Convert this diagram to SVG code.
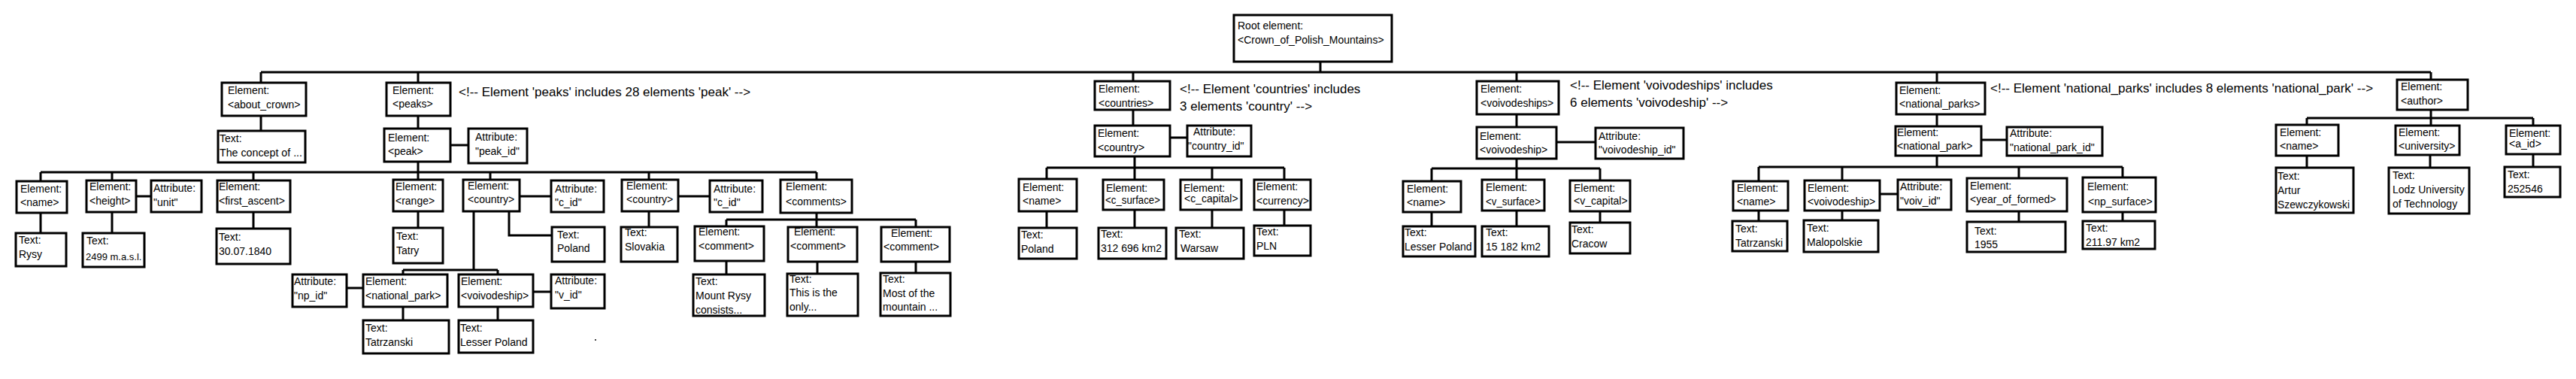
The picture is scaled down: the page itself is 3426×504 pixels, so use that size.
<svg xmlns="http://www.w3.org/2000/svg" width="3426" height="504" viewBox="0 0 3426 504">
<style>
.n rect{fill:#fff;stroke:#000;stroke-width:3}
text{font-family:"Liberation Sans",Arial,sans-serif;font-size:14px;fill:#000}
text.c{font-size:17px}
#connectors path{stroke:#000;stroke-width:3;fill:none}
</style>
<rect x="0" y="0" width="3426" height="504" fill="#fff"/>
<g id="connectors">
<path d="M347,96 H3233 M1756,83 V96 M347,96 V109 M556,96 V109 M1507,96 V107 M2017,96 V107 M2576,96 V109 M3233,96 V105"/>
<path d="M347,155 V173 M556,155 V170 M600,193 H622 M556,216 V229 M54,229 H1086 M54,229 V240 M149,229 V239 M337,229 V239 M556,229 V238 M652,229 V238 M863,229 V238 M1086,229 V238"/>
<path d="M182,261 H200 M54,284 V309 M149,283 V309 M337,283 V303 M556,282 V302 M692,261 H732 M903,261 H943"/>
<path d="M677,282 V313 H733 M630,282 V359 M536,359 H662 M536,359 V364 M662,359 V364 M462,383 H482 M536,409 V425 M710,388 H732 M662,409 V425 M863,282 V301"/>
<path d="M1086,284 V292 M966,292 H1218 M966,292 V300 M1086,292 V301 M1218,292 V301 M966,348 V364 M1087,349 V363 M1218,349 V362"/>
<path d="M1507,147 V166 M1557,183 H1578 M1509,209 V223 M1392,223 H1708 M1392,223 V237 M1509,223 V238 M1612,223 V238 M1708,223 V238 M1392,282 V302 M1509,280 V302 M1612,280 V302 M1708,280 V299"/>
<path d="M2017,153 V168 M2071,189 H2121 M2017,212 V224 M1904,224 H2128 M1904,224 V240 M2017,224 V238 M2128,224 V239 M1904,283 V300 M2017,281 V300 M2128,282 V295"/>
<path d="M2576,153 V167 M2636,186 H2668 M2576,208 V222 M2339,222 H2823 M2339,222 V240 M2450,222 V239 M2685,222 V236 M2823,222 V235 M2501,258 H2523 M2339,281 V293 M2450,281 V292 M2685,282 V294 M2823,283 V293"/>
<path d="M3233,147 V157 M3068,157 H3369 M3068,157 V165 M3233,157 V166 M3369,157 V166 M3068,208 V222 M3232,207 V222 M3369,206 V221"/>
</g>
<rect x="791" y="451" width="2" height="2" fill="#444"/>
<g id="comments">
<text class="c" x="610" y="128">&lt;!-- Element 'peaks' includes 28 elements 'peak' --&gt;</text>
<text class="c"><tspan x="1569" y="124">&lt;!-- Element 'countries' includes</tspan><tspan x="1569" y="147">3 elements 'country' --&gt;</tspan></text>
<text class="c"><tspan x="2088" y="119">&lt;!-- Element 'voivodeships' includes</tspan><tspan x="2088" y="142">6 elements 'voivodeship' --&gt;</tspan></text>
<text class="c" x="2647" y="123">&lt;!-- Element 'national_parks' includes 8 elements 'national_park' --&gt;</text>
</g>
<g id="n-root" class="n"><rect x="1641" y="20" width="210" height="62"/><text><tspan x="1646" y="39">Root element:</tspan><tspan x="1646" y="58">&lt;Crown_of_Polish_Mountains&gt;</tspan></text></g>
<g id="n-about_crown" class="n"><rect x="295" y="110" width="112" height="44"/><text><tspan x="303" y="125">Element:</tspan><tspan x="303" y="144">&lt;about_crown&gt;</tspan></text></g>
<g id="n-about_crown-text" class="n"><rect x="290" y="174" width="116" height="42"/><text><tspan x="292" y="189">Text:</tspan><tspan x="292" y="208" textLength="110" lengthAdjust="spacingAndGlyphs">The concept of ...</tspan></text></g>
<g id="n-peaks" class="n"><rect x="514" y="110" width="85" height="44"/><text><tspan x="522" y="125">Element:</tspan><tspan x="522" y="143">&lt;peaks&gt;</tspan></text></g>
<g id="n-peak" class="n"><rect x="511" y="171" width="88" height="44"/><text><tspan x="516" y="188">Element:</tspan><tspan x="516" y="206">&lt;peak&gt;</tspan></text></g>
<g id="n-peak_id" class="n"><rect x="623" y="171" width="78" height="46"/><text><tspan x="632" y="187">Attribute:</tspan><tspan x="632" y="206">"peak_id"</tspan></text></g>
<g id="n-name" class="n"><rect x="22" y="241" width="67" height="42"/><text><tspan x="27" y="256">Element:</tspan><tspan x="27" y="274">&lt;name&gt;</tspan></text></g>
<g id="n-name-text" class="n"><rect x="21" y="310" width="67" height="44"/><text><tspan x="25" y="324">Text:</tspan><tspan x="25" y="343">Rysy</tspan></text></g>
<g id="n-height" class="n"><rect x="115" y="240" width="66" height="42"/><text><tspan x="119" y="253">Element:</tspan><tspan x="119" y="272">&lt;height&gt;</tspan></text></g>
<g id="n-unit" class="n"><rect x="201" y="240" width="67" height="42"/><text><tspan x="204" y="255">Attribute:</tspan><tspan x="204" y="274">"unit"</tspan></text></g>
<g id="n-height-text" class="n"><rect x="110" y="310" width="82" height="45"/><text><tspan x="115" y="325">Text:</tspan><tspan x="114" y="346" style="font-size:13px">2499 m.a.s.l.</tspan></text></g>
<g id="n-first_ascent" class="n"><rect x="289" y="240" width="97" height="42"/><text><tspan x="291" y="253">Element:</tspan><tspan x="291" y="272">&lt;first_ascent&gt;</tspan></text></g>
<g id="n-first_ascent-text" class="n"><rect x="288" y="304" width="98" height="47"/><text><tspan x="291" y="320">Text:</tspan><tspan x="291" y="339">30.07.1840</tspan></text></g>
<g id="n-range" class="n"><rect x="523" y="239" width="66" height="42"/><text><tspan x="526" y="253">Element:</tspan><tspan x="526" y="272">&lt;range&gt;</tspan></text></g>
<g id="n-range-text" class="n"><rect x="523" y="303" width="66" height="47"/><text><tspan x="527" y="319">Text:</tspan><tspan x="527" y="338">Tatry</tspan></text></g>
<g id="n-country1" class="n"><rect x="616" y="239" width="75" height="42"/><text><tspan x="622" y="252">Element:</tspan><tspan x="622" y="270">&lt;country&gt;</tspan></text></g>
<g id="n-c_id1" class="n"><rect x="733" y="240" width="70" height="42"/><text><tspan x="738" y="256">Attribute:</tspan><tspan x="738" y="274">"c_id"</tspan></text></g>
<g id="n-country1-text" class="n"><rect x="734" y="302" width="70" height="46"/><text><tspan x="741" y="317">Text:</tspan><tspan x="741" y="335">Poland</tspan></text></g>
<g id="n-np_id" class="n"><rect x="389" y="365" width="72" height="43"/><text><tspan x="391" y="379">Attribute:</tspan><tspan x="391" y="398">"np_id"</tspan></text></g>
<g id="n-peak-national_park" class="n"><rect x="483" y="365" width="112" height="43"/><text><tspan x="486" y="379">Element:</tspan><tspan x="486" y="398">&lt;national_park&gt;</tspan></text></g>
<g id="n-peak-national_park-text" class="n"><rect x="483" y="426" width="114" height="44"/><text><tspan x="486" y="441">Text:</tspan><tspan x="486" y="460">Tatrzanski</tspan></text></g>
<g id="n-peak-voivodeship" class="n"><rect x="610" y="365" width="99" height="43"/><text><tspan x="613" y="379">Element:</tspan><tspan x="613" y="398">&lt;voivodeship&gt;</tspan></text></g>
<g id="n-v_id" class="n"><rect x="733" y="365" width="71" height="45"/><text><tspan x="738" y="378">Attribute:</tspan><tspan x="738" y="397">"v_id"</tspan></text></g>
<g id="n-peak-voivodeship-text" class="n"><rect x="610" y="426" width="99" height="43"/><text><tspan x="612" y="441">Text:</tspan><tspan x="612" y="460">Lesser Poland</tspan></text></g>
<g id="n-country2" class="n"><rect x="827" y="239" width="75" height="42"/><text><tspan x="833" y="252">Element:</tspan><tspan x="833" y="270">&lt;country&gt;</tspan></text></g>
<g id="n-c_id2" class="n"><rect x="944" y="240" width="70" height="42"/><text><tspan x="949" y="256">Attribute:</tspan><tspan x="949" y="274">"c_id"</tspan></text></g>
<g id="n-country2-text" class="n"><rect x="826" y="302" width="75" height="46"/><text><tspan x="831" y="314">Text:</tspan><tspan x="831" y="333">Slovakia</tspan></text></g>
<g id="n-comments" class="n"><rect x="1038" y="239" width="95" height="44"/><text><tspan x="1045" y="253">Element:</tspan><tspan x="1045" y="273">&lt;comments&gt;</tspan></text></g>
<g id="n-comment1" class="n"><rect x="924" y="301" width="92" height="46"/><text><tspan x="929" y="313">Element:</tspan><tspan x="929" y="332">&lt;comment&gt;</tspan></text></g>
<g id="n-comment1-text" class="n"><rect x="922" y="365" width="95" height="55"/><text><tspan x="925" y="379">Text:</tspan><tspan x="925" y="398">Mount Rysy</tspan><tspan x="925" y="417">consists...</tspan></text></g>
<g id="n-comment2" class="n"><rect x="1048" y="302" width="92" height="46"/><text><tspan x="1056" y="313">Element:</tspan><tspan x="1051" y="332">&lt;comment&gt;</tspan></text></g>
<g id="n-comment2-text" class="n"><rect x="1047" y="364" width="94" height="56"/><text><tspan x="1050" y="376">Text:</tspan><tspan x="1050" y="394">This is the</tspan><tspan x="1050" y="413">only...</tspan></text></g>
<g id="n-comment3" class="n"><rect x="1172" y="302" width="91" height="46"/><text><tspan x="1185" y="315">Element:</tspan><tspan x="1175" y="333">&lt;comment&gt;</tspan></text></g>
<g id="n-comment3-text" class="n"><rect x="1171" y="363" width="93" height="57"/><text><tspan x="1174" y="376">Text:</tspan><tspan x="1174" y="395">Most of the</tspan><tspan x="1174" y="413">mountain ...</tspan></text></g>
<g id="n-countries" class="n"><rect x="1456" y="108" width="100" height="38"/><text><tspan x="1461" y="123">Element:</tspan><tspan x="1461" y="142">&lt;countries&gt;</tspan></text></g>
<g id="n-country" class="n"><rect x="1456" y="167" width="100" height="41"/><text><tspan x="1460" y="182">Element:</tspan><tspan x="1460" y="201">&lt;country&gt;</tspan></text></g>
<g id="n-country_id" class="n"><rect x="1579" y="167" width="85" height="41"/><text><tspan x="1587" y="180">Attribute:</tspan><tspan x="1580" y="199">"country_id"</tspan></text></g>
<g id="n-c_name" class="n"><rect x="1355" y="238" width="77" height="43"/><text><tspan x="1360" y="254">Element:</tspan><tspan x="1360" y="272">&lt;name&gt;</tspan></text></g>
<g id="n-c_surface" class="n"><rect x="1467" y="239" width="81" height="40"/><text><tspan x="1471" y="255">Element:</tspan><tspan x="1470" y="271" textLength="73" lengthAdjust="spacingAndGlyphs">&lt;c_surface&gt;</tspan></text></g>
<g id="n-c_capital" class="n"><rect x="1570" y="239" width="81" height="40"/><text><tspan x="1574" y="255">Element:</tspan><tspan x="1575" y="269">&lt;c_capital&gt;</tspan></text></g>
<g id="n-currency" class="n"><rect x="1668" y="239" width="75" height="40"/><text><tspan x="1671" y="253">Element:</tspan><tspan x="1671" y="272">&lt;currency&gt;</tspan></text></g>
<g id="n-c_name-text" class="n"><rect x="1355" y="303" width="77" height="41"/><text><tspan x="1358" y="317">Text:</tspan><tspan x="1358" y="336">Poland</tspan></text></g>
<g id="n-c_surface-text" class="n"><rect x="1461" y="303" width="90" height="41"/><text><tspan x="1464" y="316">Text:</tspan><tspan x="1464" y="335">312 696 km2</tspan></text></g>
<g id="n-c_capital-text" class="n"><rect x="1564" y="303" width="90" height="41"/><text><tspan x="1568" y="316">Text:</tspan><tspan x="1570" y="335">Warsaw</tspan></text></g>
<g id="n-currency-text" class="n"><rect x="1668" y="300" width="75" height="40"/><text><tspan x="1671" y="313">Text:</tspan><tspan x="1671" y="332">PLN</tspan></text></g>
<g id="n-voivodeships" class="n"><rect x="1964" y="108" width="109" height="44"/><text><tspan x="1969" y="123">Element:</tspan><tspan x="1969" y="142">&lt;voivodeships&gt;</tspan></text></g>
<g id="n-voivodeship" class="n"><rect x="1964" y="169" width="106" height="42"/><text><tspan x="1968" y="186">Element:</tspan><tspan x="1968" y="204">&lt;voivodeship&gt;</tspan></text></g>
<g id="n-voivodeship_id" class="n"><rect x="2122" y="170" width="117" height="41"/><text><tspan x="2126" y="186">Attribute:</tspan><tspan x="2126" y="204">"voivodeship_id"</tspan></text></g>
<g id="n-v_name" class="n"><rect x="1866" y="241" width="77" height="41"/><text><tspan x="1871" y="256">Element:</tspan><tspan x="1871" y="274">&lt;name&gt;</tspan></text></g>
<g id="n-v_surface" class="n"><rect x="1971" y="239" width="83" height="41"/><text><tspan x="1976" y="254">Element:</tspan><tspan x="1976" y="273" textLength="73" lengthAdjust="spacingAndGlyphs">&lt;v_surface&gt;</tspan></text></g>
<g id="n-v_capital" class="n"><rect x="2088" y="240" width="80" height="41"/><text><tspan x="2093" y="255">Element:</tspan><tspan x="2093" y="272">&lt;v_capital&gt;</tspan></text></g>
<g id="n-v_name-text" class="n"><rect x="1866" y="301" width="96" height="40"/><text><tspan x="1868" y="314">Text:</tspan><tspan x="1868" y="333">Lesser Poland</tspan></text></g>
<g id="n-v_surface-text" class="n"><rect x="1971" y="301" width="89" height="40"/><text><tspan x="1976" y="314">Text:</tspan><tspan x="1976" y="333">15 182 km2</tspan></text></g>
<g id="n-v_capital-text" class="n"><rect x="2088" y="296" width="80" height="41"/><text><tspan x="2090" y="310">Text:</tspan><tspan x="2090" y="329">Cracow</tspan></text></g>
<g id="n-national_parks" class="n"><rect x="2522" y="110" width="118" height="42"/><text><tspan x="2526" y="125">Element:</tspan><tspan x="2526" y="143">&lt;national_parks&gt;</tspan></text></g>
<g id="n-national_park" class="n"><rect x="2521" y="168" width="114" height="39"/><text><tspan x="2523" y="181">Element:</tspan><tspan x="2523" y="199">&lt;national_park&gt;</tspan></text></g>
<g id="n-national_park_id" class="n"><rect x="2669" y="169" width="127" height="38"/><text><tspan x="2673" y="182">Attribute:</tspan><tspan x="2673" y="201">"national_park_id"</tspan></text></g>
<g id="n-np_name" class="n"><rect x="2305" y="241" width="73" height="39"/><text><tspan x="2310" y="255">Element:</tspan><tspan x="2310" y="273">&lt;name&gt;</tspan></text></g>
<g id="n-np_voivodeship" class="n"><rect x="2400" y="240" width="100" height="40"/><text><tspan x="2404" y="255">Element:</tspan><tspan x="2404" y="273">&lt;voivodeship&gt;</tspan></text></g>
<g id="n-voiv_id" class="n"><rect x="2524" y="239" width="71" height="40"/><text><tspan x="2527" y="253">Attribute:</tspan><tspan x="2527" y="272">"voiv_id"</tspan></text></g>
<g id="n-year_of_formed" class="n"><rect x="2616" y="237" width="133" height="44"/><text><tspan x="2620" y="252">Element:</tspan><tspan x="2620" y="270">&lt;year_of_formed&gt;</tspan></text></g>
<g id="n-np_surface" class="n"><rect x="2770" y="236" width="97" height="46"/><text><tspan x="2776" y="253">Element:</tspan><tspan x="2777" y="273">&lt;np_surface&gt;</tspan></text></g>
<g id="n-np_name-text" class="n"><rect x="2304" y="294" width="73" height="40"/><text><tspan x="2308" y="309">Text:</tspan><tspan x="2308" y="328">Tatrzanski</tspan></text></g>
<g id="n-np_voivodeship-text" class="n"><rect x="2399" y="293" width="99" height="42"/><text><tspan x="2403" y="308">Text:</tspan><tspan x="2403" y="327">Malopolskie</tspan></text></g>
<g id="n-year_of_formed-text" class="n"><rect x="2616" y="295" width="131" height="40"/><text><tspan x="2626" y="312">Text:</tspan><tspan x="2626" y="330">1955</tspan></text></g>
<g id="n-np_surface-text" class="n"><rect x="2770" y="294" width="96" height="37"/><text><tspan x="2774" y="308">Text:</tspan><tspan x="2774" y="327">211.97 km2</tspan></text></g>
<g id="n-author" class="n"><rect x="3188" y="106" width="94" height="40"/><text><tspan x="3193" y="120">Element:</tspan><tspan x="3193" y="139">&lt;author&gt;</tspan></text></g>
<g id="n-a_name" class="n"><rect x="3027" y="166" width="83" height="41"/><text><tspan x="3032" y="181">Element:</tspan><tspan x="3032" y="199">&lt;name&gt;</tspan></text></g>
<g id="n-university" class="n"><rect x="3186" y="167" width="85" height="39"/><text><tspan x="3190" y="181">Element:</tspan><tspan x="3190" y="199">&lt;university&gt;</tspan></text></g>
<g id="n-a_id" class="n"><rect x="3333" y="167" width="72" height="38"/><text><tspan x="3337" y="182">Element:</tspan><tspan x="3337" y="196">&lt;a_id&gt;</tspan></text></g>
<g id="n-a_name-text" class="n"><rect x="3027" y="223" width="103" height="60"/><text><tspan x="3029" y="239">Text:</tspan><tspan x="3029" y="258">Artur</tspan><tspan x="3029" y="277" textLength="96" lengthAdjust="spacingAndGlyphs">Szewczykowski</tspan></text></g>
<g id="n-university-text" class="n"><rect x="3177" y="223" width="107" height="61"/><text><tspan x="3182" y="238">Text:</tspan><tspan x="3182" y="257">Lodz University</tspan><tspan x="3182" y="276">of Technology</tspan></text></g>
<g id="n-a_id-text" class="n"><rect x="3331" y="222" width="74" height="40"/><text><tspan x="3335" y="237">Text:</tspan><tspan x="3335" y="256">252546</tspan></text></g>
</svg>
